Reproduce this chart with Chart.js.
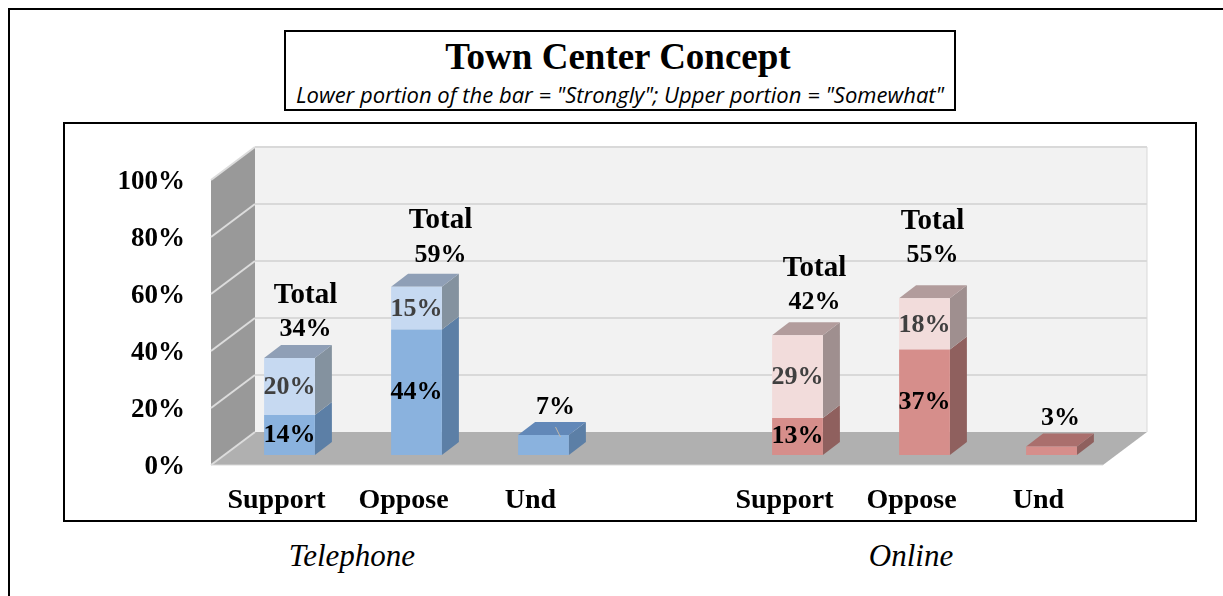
<!DOCTYPE html>
<html>
<head>
<meta charset="utf-8">
<title>Town Center Concept</title>
<script src="https://cdn.jsdelivr.net/npm/chart.js@4/dist/chart.umd.min.js"></script>
<style>
    html, body { margin: 0; padding: 0; background: #fff; width: 1223px; height: 596px; overflow: hidden; }
    .abs { position: absolute; box-sizing: border-box; }
    #outer { left: 8px; top: 8px; width: 1300px; height: 700px; border: 2px solid #000; }
    #plotBox { left: 63px; top: 122px; width: 1134px; height: 400px; border: 2px solid #000; }
    #titleBox { left: 284px; top: 30px; width: 672px; height: 81px; border: 2px solid #000; text-align: center; }
    #mainTitle { left: -2px; top: 3px; width: 100%; font: bold 37px "Liberation Serif", serif; color: #000; }
    #subTitle { left: 0; top: 47px; width: 100%; font: italic 22px "Open Sans", sans-serif; color: #000; white-space: nowrap; }
    .mode { font: italic 31px "Liberation Serif", serif; color: #000; top: 538px; width: 200px; text-align: center; }
    canvas { position: absolute; left: 0; top: 0; }
</style>
</head>
<body>
<div class="abs" id="outer"></div>
<div class="abs" id="plotBox"></div>
<div class="abs" id="titleBox">
    <div class="abs" id="mainTitle">Town Center Concept</div>
    <div class="abs" id="subTitle">Lower portion of the bar = "Strongly"; Upper portion = "Somewhat"</div>
</div>
<div class="abs mode" style="left: 252px">Telephone</div>
<div class="abs mode" style="left: 811px">Online</div>
<canvas id="chart" width="1223" height="596"></canvas>

<script>
// Chart data (blank slot separates the two survey modes)
const categories = ["Support", "Oppose", "Und", "", "Support", "Oppose", "Und"];
const strongly = [14, 44, 7, null, 13, 37, 3];
const somewhat = [20, 15, null, null, 29, 18, null];
const totals = [34, 59, null, null, 42, 55, null];
const yTicks = [0, 20, 40, 60, 80, 100];

// Colours per bar: front, side and top faces
const BLUE = { low: "#8ab2de", high: "#c6d9f1", sideLow: "#5c7fa6", sideHigh: "#84929f", top: "#8f9fb6", flat: "#6288b8" };
const RED = { low: "#d68e8b", high: "#f2dcdb", sideLow: "#8f605e", sideHigh: "#9f8f8f", top: "#b29c9c", flat: "#aa6f6d" };
const barColors = [BLUE, BLUE, BLUE, BLUE, RED, RED, RED];

// Depth of the fake 3D box
const BAR_DX = 17, BAR_DY = 13;
const FRONT_DX = -15, FRONT_DY = 10;
const BACK_DX = 29, BACK_DY = -23;
const FONT = '"Liberation Serif", serif';

// Where the total labels sit relative to the front top of each bar
const totalNudge = [[16, -29], [24, -32], [12, -28], null, [17, -33], [8, -43], [9, -28]];

function poly(ctx, points, color) {
    ctx.fillStyle = color;
    ctx.beginPath();
    points.forEach((p, i) => (i ? ctx.lineTo(p[0], p[1]) : ctx.moveTo(p[0], p[1])));
    ctx.closePath();
    ctx.fill();
}

function line(ctx, x1, y1, x2, y2, color, width) {
    ctx.strokeStyle = color;
    ctx.lineWidth = width;
    ctx.beginPath();
    ctx.moveTo(x1, y1);
    ctx.lineTo(x2, y2);
    ctx.stroke();
}

// Back wall, side wall and floor behind the bars
const wallsPlugin = {
    id: "walls",
    beforeDatasetsDraw(chart) {
        const { ctx, chartArea: area, scales } = chart;
        const y = scales.y;
        const y0 = y.getPixelForValue(0), y100 = y.getPixelForValue(100);
        const fl = area.left + FRONT_DX, fr = area.right + FRONT_DX + 3;
        const bl = area.left + BACK_DX, br = area.right + BACK_DX + 3;

        poly(ctx, [[bl, y100 + BACK_DY], [br, y100 + BACK_DY], [br, y0 + BACK_DY], [bl, y0 + BACK_DY]], "#f2f2f2");
        poly(ctx, [[fl, y100 + FRONT_DY], [bl, y100 + BACK_DY], [bl, y0 + BACK_DY], [fl, y0 + FRONT_DY]], "#999999");
        poly(ctx, [[fl, y0 + FRONT_DY], [bl, y0 + BACK_DY], [br, y0 + BACK_DY], [fr, y0 + FRONT_DY]], "#b0b0b0");

        yTicks.forEach((v) => {
            const py = y.getPixelForValue(v);
            if (v > 0) line(ctx, bl, py + BACK_DY, br, py + BACK_DY, "#d9d9d9", 2);
            line(ctx, fl, py + FRONT_DY, bl, py + BACK_DY, "#dcdcdc", 2);
        });
        line(ctx, fl, y0 + FRONT_DY, fr, y0 + FRONT_DY, "#d9d9d9", 1);
        line(ctx, br, y100 + BACK_DY, br, y0 + BACK_DY, "#d9d9d9", 1);

        // side and top faces of every bar
        const lowBars = chart.getDatasetMeta(0).data;
        const highBars = chart.getDatasetMeta(1).data;
        categories.forEach((_, i) => {
            if (strongly[i] == null) return;
            const c = barColors[i];
            const low = lowBars[i];
            const right = low.x + low.width / 2;
            const left = low.x - low.width / 2;
            const side = (topY, botY, color) =>
                poly(ctx, [[right, topY], [right + BAR_DX, topY - BAR_DY], [right + BAR_DX, botY - BAR_DY], [right, botY]], color);
            side(low.y, low.base, c.sideLow);
            let topY = low.y;
            if (somewhat[i] != null) {
                topY = highBars[i].y;
                side(topY, low.y, c.sideHigh);
            }
            poly(ctx, [[left, topY], [left + BAR_DX, topY - BAR_DY], [right + BAR_DX, topY - BAR_DY], [right, topY]],
                somewhat[i] != null ? c.top : c.flat);
        });
    },
};

// Value labels on the segments and the totals above the bars
const labelsPlugin = {
    id: "barLabels",
    afterDatasetsDraw(chart) {
        const { ctx } = chart;
        const lowBars = chart.getDatasetMeta(0).data;
        const highBars = chart.getDatasetMeta(1).data;
        ctx.save();
        ctx.textAlign = "center";
        ctx.textBaseline = "middle";

        // small leader line left on the Und bar
        const und = lowBars[2];
        line(ctx, und.x + 12, und.y - 8, und.x + 17, und.y + 2, "#c4b8a8", 1);

        categories.forEach((_, i) => {
            if (strongly[i] == null) return;
            const low = lowBars[i];
            ctx.font = "bold 26px " + FONT;
            if (somewhat[i] != null) {
                const high = highBars[i];
                ctx.fillStyle = "#000";
                ctx.fillText(strongly[i] + "%", low.x, (low.y + low.base) / 2);
                ctx.fillStyle = "#404040";
                ctx.fillText(somewhat[i] + "%", high.x, (high.y + low.y) / 2 + 1);
                ctx.fillStyle = "#000";
                const [nx, ny] = totalNudge[i];
                ctx.fillText(totals[i] + "%", low.x + nx, high.y + ny);
                ctx.font = "bold 29px " + FONT;
                ctx.fillText("Total", low.x + nx, high.y + ny - 34);
            } else {
                const [nx, ny] = totalNudge[i];
                ctx.fillStyle = "#000";
                ctx.fillText(strongly[i] + "%", low.x + nx, low.y + ny);
            }
        });
        ctx.restore();
    },
};

new Chart(document.getElementById("chart"), {
    type: "bar",
    data: {
        labels: categories,
        datasets: [
            {
                label: "Strongly",
                data: strongly,
                backgroundColor: barColors.map((c) => c.low),
                borderWidth: 0,
            },
            {
                label: "Somewhat",
                data: somewhat,
                backgroundColor: barColors.map((c) => c.high),
                borderWidth: 0,
            },
        ],
    },
    options: {
        responsive: false,
        animation: false,
        layout: { padding: { left: 0, right: 108, top: 170, bottom: 61 } },
        datasets: { bar: { categoryPercentage: 1, barPercentage: 0.4 } },
        plugins: { legend: { display: false }, title: { display: false }, tooltip: { enabled: false } },
        scales: {
            x: {
                stacked: true,
                grid: { display: false },
                border: { display: false },
                afterFit(scale) {
                    scale.height = 80;
                },
                ticks: {
                    autoSkip: false,
                    maxRotation: 0,
                    padding: 21,
                    labelOffset: -13,
                    color: "#000",
                    font: { family: FONT, size: 28, weight: "bold" },
                },
            },
            y: {
                stacked: true,
                min: 0,
                max: 100,
                grid: { display: false },
                border: { display: false },
                afterFit(scale) {
                    scale.width = 226;
                },
                afterBuildTicks(scale) {
                    scale.ticks = yTicks.map((v) => ({ value: v }));
                },
                ticks: {
                    padding: 33,
                    labelOffset: 12,
                    color: "#000",
                    font: { family: FONT, size: 27, weight: "bold" },
                    callback: (v) => v + "%",
                },
            },
        },
    },
    plugins: [wallsPlugin, labelsPlugin],
});
</script>
</body>
</html>
